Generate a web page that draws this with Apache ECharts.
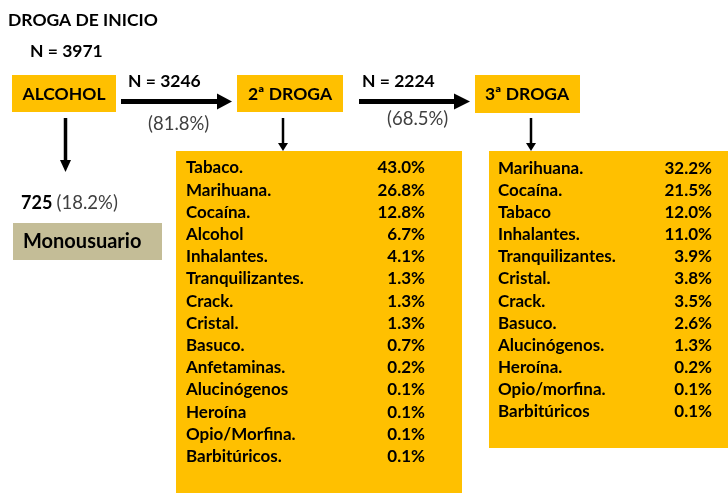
<!DOCTYPE html>
<html>
<head>
<meta charset="utf-8">
<script src="https://cdn.jsdelivr.net/npm/echarts@6.0.0/dist/echarts.min.js"></script>
</head>
<body style="margin:0;background:#fff;">
<div id="main" style="width:728px;height:493px;"></div>
<script>
// datos del flujo
var nInicio = 3971;
var drogaInicio = 'ALCOHOL';
var nSegunda = 3246, pctSegunda = 81.8;
var nTercera = 2224, pctTercera = 68.5;
var nMono = 725, pctMono = 18.2;

// 2ª droga
var segundaNombres = ['Tabaco.', 'Marihuana.', 'Cocaína.', 'Alcohol', 'Inhalantes.', 'Tranquilizantes.',
  'Crack.', 'Cristal.', 'Basuco.', 'Anfetaminas.', 'Alucinógenos', 'Heroína', 'Opio/Morfina.', 'Barbitúricos.'];
var segundaPct = [43.0, 26.8, 12.8, 6.7, 4.1, 1.3, 1.3, 1.3, 0.7, 0.2, 0.1, 0.1, 0.1, 0.1];

// 3ª droga
var terceraNombres = ['Marihuana.', 'Cocaína.', 'Tabaco', 'Inhalantes.', 'Tranquilizantes.', 'Cristal.',
  'Crack.', 'Basuco.', 'Alucinógenos.', 'Heroína.', 'Opio/morfina.', 'Barbitúricos'];
var terceraPct = [32.2, 21.5, 12.0, 11.0, 3.9, 3.8, 3.5, 2.6, 1.3, 0.2, 0.1, 0.1];

var AMARILLO = '#FFC000';
var FUENTE = 'Lato, sans-serif';
var SIZE = 17.5;   // titulos y cajas
var SIZE_T = 17;   // tablas
var SIZE_N = 18.5; // porcentajes en gris

var chart = echarts.init(document.getElementById('main'));

function txt(x, y, s, opt) {
  opt = opt || {};
  return {
    type: 'text', x: x, y: y, z: 10,
    style: {
      text: s,
      fontFamily: FUENTE,
      fontSize: opt.size || SIZE,
      fontWeight: opt.weight || 'bold',
      fill: opt.color || '#000',
      align: opt.align || 'left',
      verticalAlign: 'middle',
      rich: opt.rich
    }
  };
}
function caja(x, y, w, h, color) {
  return { type: 'rect', shape: { x: x, y: y, width: w, height: h }, style: { fill: color } };
}
// flecha horizontal
function flechaH(x1, x2, y, grosor, cabezaL, cabezaH) {
  return [
    { type: 'line', shape: { x1: x1, y1: y, x2: x2 - cabezaL + 1, y2: y }, style: { stroke: '#000', lineWidth: grosor } },
    { type: 'polygon', shape: { points: [[x2 - cabezaL, y - cabezaH / 2], [x2, y], [x2 - cabezaL, y + cabezaH / 2]] }, style: { fill: '#000' } }
  ];
}
// flecha vertical
function flechaV(x, y1, y2, grosor, cabezaL, cabezaW) {
  return [
    { type: 'line', shape: { x1: x, y1: y1, x2: x, y2: y2 - cabezaL + 1 }, style: { stroke: '#000', lineWidth: grosor } },
    { type: 'polygon', shape: { points: [[x - cabezaW / 2, y2 - cabezaL], [x, y2], [x + cabezaW / 2, y2 - cabezaL]] }, style: { fill: '#000' } }
  ];
}
function pct(v) { return v.toFixed(1) + '%'; }

var g = [];
g.push(txt(8, 20, 'DROGA DE INICIO', { size: 17.5 }));
g.push(txt(30, 51, 'N = ' + nInicio));

// cajas superiores
g.push(caja(12, 75, 104, 37, AMARILLO));
g.push(txt(64, 94, drogaInicio, { align: 'center' }));
g.push(caja(237, 75, 106, 37, AMARILLO));
g.push(txt(290, 94, '2ª DROGA', { align: 'center' }));
g.push(caja(475, 75, 105, 38, AMARILLO));
g.push(txt(527, 94, '3ª DROGA', { align: 'center' }));

// flechas horizontales
g = g.concat(flechaH(121, 232, 101.5, 5, 15, 16));
g.push(txt(128, 81, 'N = ' + nSegunda));
g.push(txt(148, 124, '(' + pct(pctSegunda) + ')', { weight: 'normal', color: '#404040', size: SIZE_N }));
g = g.concat(flechaH(359, 470, 101.5, 5, 16, 16));
g.push(txt(362, 81, 'N = ' + nTercera));
g.push(txt(387, 119, '(' + pct(pctTercera) + ')', { weight: 'normal', color: '#404040', size: SIZE_N }));

// monousuario
g = g.concat(flechaV(65.5, 118, 172, 3.5, 12, 11));
g.push(txt(21, 203, '{b|' + nMono + '} {n|(' + pct(pctMono) + ')}', {
  rich: {
    b: { fontFamily: FUENTE, fontSize: 18, fontWeight: 'bold', fill: '#000' },
    n: { fontFamily: FUENTE, fontSize: SIZE_N, fontWeight: 'normal', fill: '#404040' }
  }
}));
g.push(caja(13, 223, 149, 37, '#C4BD97'));
g.push(txt(23, 242, 'Monousuario', { size: 20 }));

// tabla 2ª droga
g = g.concat(flechaV(283, 118, 151, 2.5, 8, 10));
g.push(caja(176, 151, 286, 342, AMARILLO));
segundaNombres.forEach(function (n, i) {
  var y = 168 + i * 22.2;
  g.push(txt(186, y, n, { size: SIZE_T }));
  g.push(txt(425, y, pct(segundaPct[i]), { align: 'right', size: SIZE_T }));
});

// tabla 3ª droga
g = g.concat(flechaV(531, 118, 151, 2.5, 8, 10));
g.push(caja(489, 151, 239, 297, AMARILLO));
terceraNombres.forEach(function (n, i) {
  var y = 168.5 + i * 22.1;
  g.push(txt(498, y, n, { size: SIZE_T }));
  g.push(txt(712, y, pct(terceraPct[i]), { align: 'right', size: SIZE_T }));
});

chart.setOption({
  animation: false,
  graphic: { elements: g }
});
</script>
</body>
</html>
